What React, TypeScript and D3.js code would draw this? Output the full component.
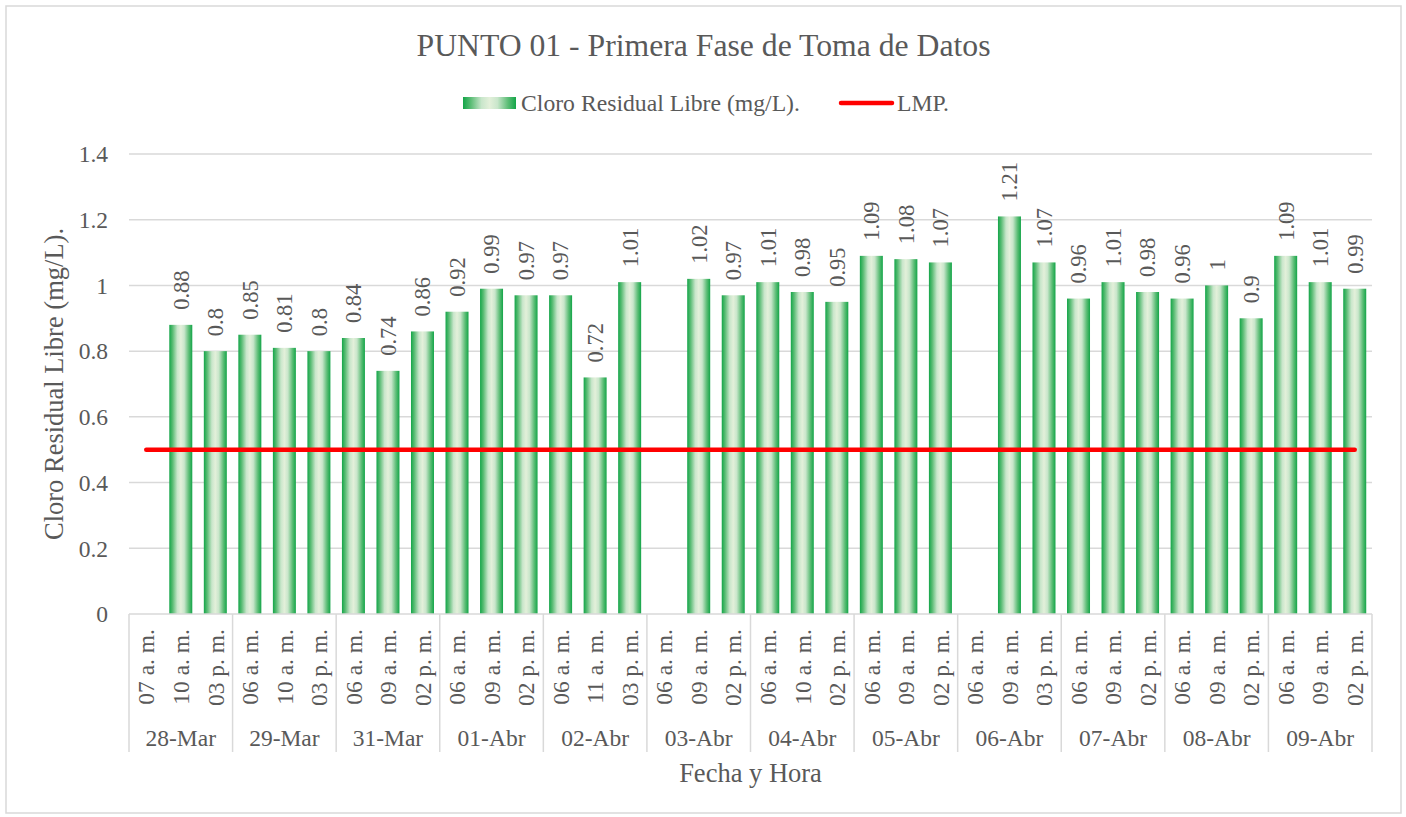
import React from "react";
import * as d3 from "d3";

const dates = ["28-Mar", "29-Mar", "31-Mar", "01-Abr", "02-Abr", "03-Abr", "04-Abr", "05-Abr", "06-Abr", "07-Abr", "08-Abr", "09-Abr"];
const hours = [
  ["07 a. m.", "10 a. m.", "03 p. m."],
  ["06 a. m.", "10 a. m.", "03 p. m."],
  ["06 a. m.", "09 a. m.", "02 p. m."],
  ["06 a. m.", "09 a. m.", "02 p. m."],
  ["06 a. m.", "11 a. m.", "03 p. m."],
  ["06 a. m.", "09 a. m.", "02 p. m."],
  ["06 a. m.", "10 a. m.", "02 p. m."],
  ["06 a. m.", "09 a. m.", "02 p. m."],
  ["06 a. m.", "09 a. m.", "03 p. m."],
  ["06 a. m.", "09 a. m.", "02 p. m."],
  ["06 a. m.", "09 a. m.", "02 p. m."],
  ["06 a. m.", "09 a. m.", "02 p. m."],
];
const cloroValues: (number | null)[] = [
  null, 0.88, 0.8,
  0.85, 0.81, 0.8,
  0.84, 0.74, 0.86,
  0.92, 0.99, 0.97,
  0.97, 0.72, 1.01,
  null, 1.02, 0.97,
  1.01, 0.98, 0.95,
  1.09, 1.08, 1.07,
  null, 1.21, 1.07,
  0.96, 1.01, 0.98,
  0.96, 1, 0.9,
  1.09, 1.01, 0.99,
];
const lmpValue = 0.5;
const yTicks = [0, 0.2, 0.4, 0.6, 0.8, 1, 1.2, 1.4];

const title = "PUNTO 01 - Primera Fase de Toma de Datos";
const seriesName = "Cloro Residual Libre (mg/L).";
const lmpName = "LMP.";
const xTitle = "Fecha y Hora";
const yTitle = "Cloro Residual Libre (mg/L).";

const W = 1406;
const H = 817;
const left = 129;
const right = 1372;
const top = 154;
const bottom = 614;
const FONT = "'Liberation Serif', 'Times New Roman', serif";
const TXT = "#595959";
const GRID = "#d9d9d9";

export default function App() {
  const keys = dates.flatMap((d, gi) => hours[gi].map((h, hi) => `${gi}|${hi}`));
  const x = d3.scaleBand<string>().domain(keys).range([left, right]).paddingInner(0.334).paddingOuter(0.167);
  const y = d3.scaleLinear().domain([0, 1.4]).range([bottom, top]);
  const step = x.step();
  const groupW = step * 3;
  const line = d3.line<number>().x((i) => (x(keys[i]) as number) + x.bandwidth() / 2).y(() => y(lmpValue));

  return (
    <svg width={W} height={H} style={{ position: "absolute", left: 0, top: 0, background: "#fff" }} fontFamily={FONT}>
      <defs>
        <linearGradient id="barGrad" x1="0" x2="1" y1="0" y2="0">
          <stop offset="0%" stopColor="#13a548" />
          <stop offset="15%" stopColor="#5cbd76" />
          <stop offset="35%" stopColor="#c9e6cb" />
          <stop offset="50%" stopColor="#e3f0da" />
          <stop offset="65%" stopColor="#c9e6cb" />
          <stop offset="85%" stopColor="#5cbd76" />
          <stop offset="100%" stopColor="#13a548" />
        </linearGradient>
      </defs>
      <rect x={6} y={6} width={W - 11} height={H - 10} fill="#fff" stroke={GRID} strokeWidth={1.5} />

      <text x={703.5} y={56} textAnchor="middle" fontSize={31.7} fill={TXT}>{title}</text>

      {/* legend */}
      <rect x={463} y={97} width={53} height={12} fill="url(#barGrad)" />
      <text x={521} y={111} fontSize={23.7} fill={TXT}>{seriesName}</text>
      <line x1={841} x2={892} y1={103} y2={103} stroke="#ff0000" strokeWidth={4.5} strokeLinecap="round" />
      <text x={897} y={111} fontSize={23.7} fill={TXT}>{lmpName}</text>

      {/* gridlines & y ticks */}
      {yTicks.map((t) => (
        <g key={t}>
          {t > 0 && <line x1={left} x2={right} y1={y(t)} y2={y(t)} stroke={GRID} strokeWidth={1.5} />}
          <text x={108} y={y(t)} dy="0.35em" textAnchor="end" fontSize={23.5} fill={TXT}>{String(t)}</text>
        </g>
      ))}

      {/* bars */}
      {cloroValues.map((v, i) =>
        v == null ? null : (
          <rect key={i} x={x(keys[i])} y={y(v)} width={x.bandwidth()} height={y(0) - y(v)} fill="url(#barGrad)" />
        )
      )}

      {/* data labels */}
      {cloroValues.map((v, i) => {
        if (v == null) return null;
        const cx = (x(keys[i]) as number) + x.bandwidth() / 2;
        const ty = y(v) - 15;
        return (
          <text key={i} transform={`translate(${cx},${ty}) rotate(-90)`} dy="0.35em" textAnchor="start" fontSize={22.5} fill={TXT}>
            {String(v)}
          </text>
        );
      })}

      {/* LMP line */}
      <path d={line(d3.range(keys.length)) as string} fill="none" stroke="#ff0000" strokeWidth={4.5} strokeLinecap="round" />

      {/* x axis */}
      <line x1={left} x2={right} y1={bottom} y2={bottom} stroke={GRID} strokeWidth={1.5} />
      {d3.range(dates.length + 1).map((g) => (
        <line key={g} x1={left + g * groupW} x2={left + g * groupW} y1={bottom} y2={752} stroke={GRID} strokeWidth={1.5} />
      ))}
      {keys.map((k, i) => {
        const [gi, hi] = k.split("|").map(Number);
        const cx = (x(k) as number) + x.bandwidth() / 2;
        return (
          <text key={k} transform={`translate(${cx},629) rotate(-90)`} dy="0.35em" textAnchor="end" fontSize={23.5} fill={TXT}>
            {hours[gi][hi]}
          </text>
        );
      })}
      {dates.map((d, g) => (
        <text key={d} x={left + g * groupW + groupW / 2} y={746} textAnchor="middle" fontSize={23.5} fill={TXT}>{d}</text>
      ))}

      {/* axis titles */}
      <text x={750.5} y={782} textAnchor="middle" fontSize={26.5} fill={TXT}>{xTitle}</text>
      <text transform={`translate(63,${(top + bottom) / 2}) rotate(-90)`} textAnchor="middle" fontSize={26.5} fill={TXT}>{yTitle}</text>
    </svg>
  );
}
